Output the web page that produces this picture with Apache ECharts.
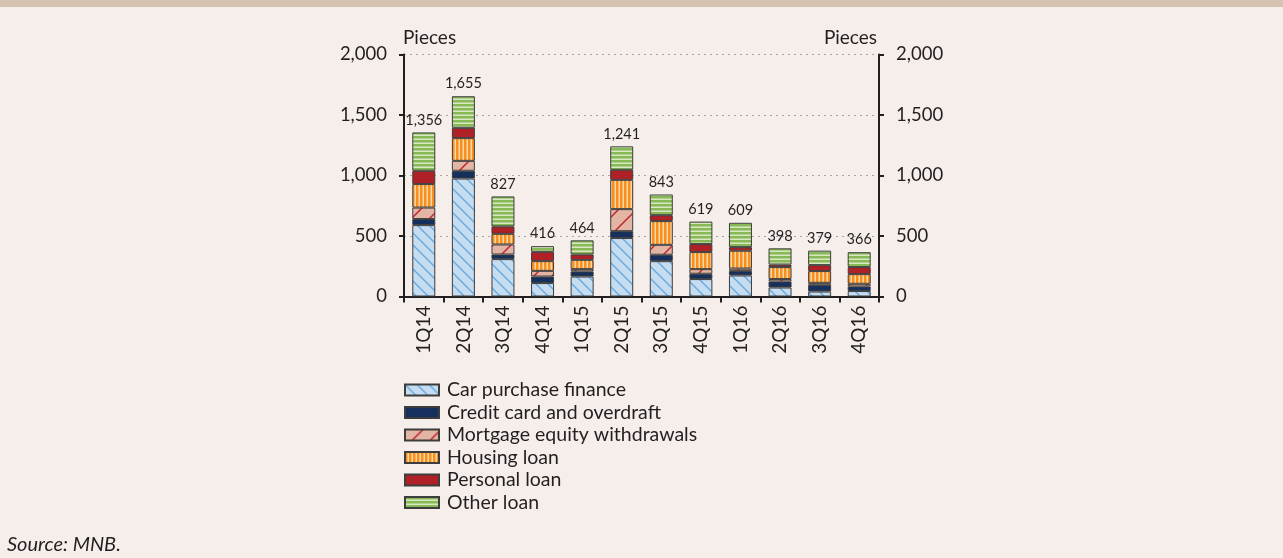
<!DOCTYPE html>
<html>
<head>
<meta charset="utf-8">
<script src="https://cdn.jsdelivr.net/npm/echarts@6/dist/echarts.min.js"></script>
<style>
  html, body { margin: 0; padding: 0; background: #f6eeeb; }
  #chart { width: 1283px; height: 558px; }
</style>
</head>
<body>
<div id="chart"></div>
<script>
// quarters on the x axis
const categories = ["1Q14", "2Q14", "3Q14", "4Q14", "1Q15", "2Q15", "3Q15", "4Q15", "1Q16", "2Q16", "3Q16", "4Q16"];

// pieces per loan purpose
const carPurchase = [590, 975, 309, 111, 165, 483, 292, 144, 174, 74, 41, 45];
const creditCard = [50, 64, 38, 54, 42, 57, 53, 44, 38, 50, 56, 38];
const mortgageEquity = [95, 82, 83, 47, 19, 182, 82, 38, 19, 20, 16, 22];
const housingLoan = [194, 188, 88, 80, 77, 242, 196, 141, 147, 99, 97, 80];
const personalLoan = [110, 85, 61, 77, 44, 83, 49, 66, 30, 21, 49, 58];
const otherLoan = [317, 261, 248, 47, 117, 194, 171, 186, 201, 134, 120, 123];

// totals printed above the bars
const totals = [1356, 1655, 827, 416, 464, 1241, 843, 619, 609, 398, 379, 366];

const yTicks = { min: 0, max: 2000, interval: 500 };

const FONT = "Lato";
const INK = "#231f20";

// small canvas tiles used as hatch fills
const makeTile = (w, h, draw) => {
  const c = document.createElement("canvas");
  c.width = w;
  c.height = h;
  draw(c.getContext("2d"), w, h);
  return { image: c, repeat: "repeat" };
};

const carFill = makeTile(12, 12, (ctx, w, h) => {
  ctx.fillStyle = "#c5dcf1";
  ctx.fillRect(0, 0, w, h);
  ctx.strokeStyle = "#6aaade";
  ctx.lineWidth = 1.4;
  ctx.beginPath();
  ctx.moveTo(-2, -2); ctx.lineTo(w + 2, h + 2);
  ctx.moveTo(-2, h - 2); ctx.lineTo(2, h + 2);
  ctx.moveTo(w - 2, -2); ctx.lineTo(w + 2, 2);
  ctx.stroke();
});

const mortgageFill = makeTile(18, 18, (ctx, w, h) => {
  ctx.fillStyle = "#e3b5a4";
  ctx.fillRect(0, 0, w, h);
  ctx.strokeStyle = "#c1272d";
  ctx.lineWidth = 1.5;
  ctx.beginPath();
  ctx.moveTo(-2, h + 2); ctx.lineTo(w + 2, -2);
  ctx.moveTo(-2, 2); ctx.lineTo(2, -2);
  ctx.moveTo(w - 2, h + 2); ctx.lineTo(w + 2, h - 2);
  ctx.stroke();
});

const housingFill = makeTile(4, 4, (ctx, w, h) => {
  ctx.fillStyle = "#f7901e";
  ctx.fillRect(0, 0, w, h);
  ctx.fillStyle = "#fcd7a6";
  ctx.fillRect(2.5, 0, 1.5, h);
});

const otherFill = makeTile(4, 4, (ctx, w, h) => {
  ctx.fillStyle = "#88b957";
  ctx.fillRect(0, 0, w, h);
  ctx.fillStyle = "#d9e8c3";
  ctx.fillRect(0, 2.5, w, 1.5);
});

const seriesDefs = [
  { name: "Car purchase finance", data: carPurchase, color: carFill },
  { name: "Credit card and overdraft", data: creditCard, color: "#15305c" },
  { name: "Mortgage equity withdrawals", data: mortgageEquity, color: mortgageFill },
  { name: "Housing loan", data: housingLoan, color: housingFill },
  { name: "Personal loan", data: personalLoan, color: "#af2127" },
  { name: "Other loan", data: otherLoan, color: otherFill },
];

const withCommas = (v) => String(v).replace(/\B(?=(\d{3})+(?!\d))/g, ",");

const chart = echarts.init(document.getElementById("chart"));

const series = seriesDefs.map((s, i) => ({
  name: s.name,
  type: "bar",
  stack: "total",
  barWidth: 23,
  data: s.data,
  itemStyle: {
    color: s.color,
    borderColor: "#3d3d3d",
    borderWidth: 1,
  },
  label: i === seriesDefs.length - 1 ? {
    show: true,
    position: "top",
    distance: 5,
    fontFamily: FONT,
    fontSize: 14.5,
    color: INK,
    formatter: (p) => withCommas(totals[p.dataIndex]),
  } : { show: false },
  emphasis: { disabled: true },
}));

const valueAxis = (position) => ({
  type: "value",
  position: position,
  min: yTicks.min,
  max: yTicks.max,
  interval: yTicks.interval,
  axisLine: { show: true, lineStyle: { color: INK, width: 2 } },
  axisTick: { show: true, length: 5, lineStyle: { color: INK, width: 2 } },
  axisLabel: {
    fontFamily: FONT,
    fontSize: 18.5,
    color: INK,
    margin: 17,
    formatter: withCommas,
  },
  splitLine: position === "left" ? {
    show: true,
    lineStyle: { color: "#a5a5a5", type: [2, 4], width: 1 },
  } : { show: false },
});

chart.setOption({
  backgroundColor: "#f6eeeb",
  animation: false,
  grid: {
    left: 404,
    right: 404,
    top: 54.5,
    bottom: 261.5,
  },
  legend: {
    orient: "vertical",
    left: 404,
    top: 380,
    padding: 0,
    icon: "rect",
    itemWidth: 34,
    itemHeight: 11,
    itemGap: 2.5,
    selectedMode: false,
    textStyle: {
      fontFamily: FONT,
      fontSize: 19.5,
      lineHeight: 18,
      color: INK,
      padding: [0, 0, 0, 3],
    },
    data: seriesDefs.map((s) => s.name),
  },
  xAxis: {
    type: "category",
    data: categories,
    axisLine: { lineStyle: { color: INK, width: 2 } },
    axisTick: { show: true, length: 6, interval: 0, lineStyle: { color: INK, width: 2 } },
    axisLabel: {
      rotate: 90,
      interval: 0,
      margin: 9,
      fontFamily: FONT,
      fontSize: 19,
      color: INK,
    },
  },
  yAxis: [valueAxis("left"), valueAxis("right")],
  series: series,
  graphic: [
    {
      type: "rect",
      shape: { x: 0, y: 0, width: 1283, height: 7 },
      style: { fill: "#d5c3b1" },
      silent: true,
    },
    {
      type: "text",
      x: 403,
      y: 38,
      style: { text: "Pieces", font: "19px " + FONT, fill: INK, textAlign: "left", textVerticalAlign: "middle" },
    },
    {
      type: "text",
      x: 877,
      y: 38,
      style: { text: "Pieces", font: "19px " + FONT, fill: INK, textAlign: "right", textVerticalAlign: "middle" },
    },
    {
      type: "text",
      x: 7,
      y: 545,
      style: { text: "Source: MNB.", font: "italic 20px " + FONT, fill: INK, textAlign: "left", textVerticalAlign: "middle" },
    },
  ],
});
</script>
</body>
</html>
